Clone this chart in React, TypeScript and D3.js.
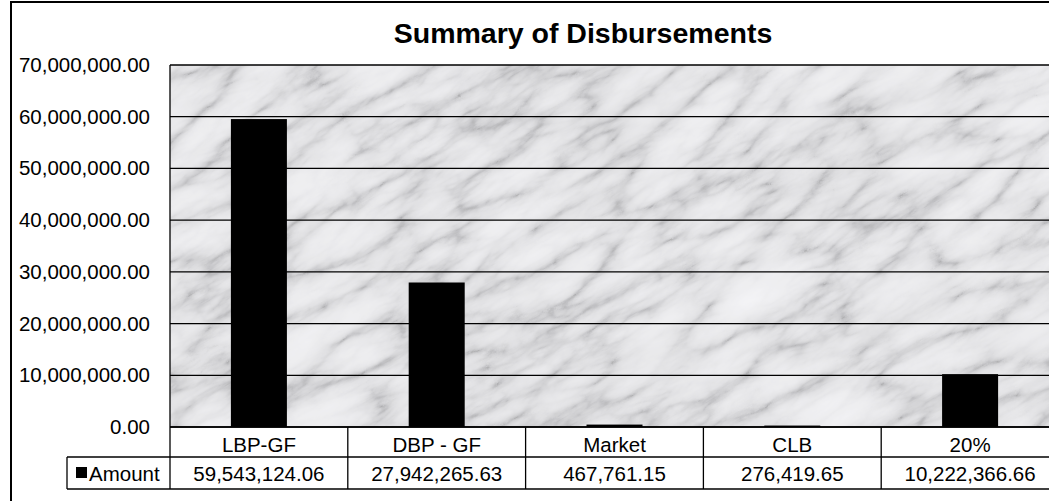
import React from "react";
import * as d3 from "d3";

const categories = ["LBP-GF", "DBP - GF", "Market", "CLB", "20%"];
const amounts = [59543124.06, 27942265.63, 467761.15, 276419.65, 10222366.66];
const valueLabels = ["59,543,124.06", "27,942,265.63", "467,761.15", "276,419.65", "10,222,366.66"];
const yTicks = [0, 10e6, 20e6, 30e6, 40e6, 50e6, 60e6, 70e6];
const seriesName = "Amount";
const title = "Summary of Disbursements";

export default function App() {
  const W = 1049, H = 501;
  const plotL = 170, plotR = 1059, plotT = 65, plotB = 427;
  const row1B = 457, row2B = 489, legendL = 67;
  const y = d3.scaleLinear().domain([0, 70e6]).range([plotB, plotT]);
  const x = d3.scaleBand<string>().domain(categories).range([plotL, plotR]).padding(0);
  const bw = x.bandwidth() * 0.315;
  const fmt = d3.format(",.2f");
  const font = "Arial, 'Liberation Sans', sans-serif";
  const fs = 20.5;

  return (
    <svg width={W} height={H} style={{ position: "absolute", left: 0, top: 0 }}>
      <defs>
        <filter id="marble" x="0" y="0" width="100%" height="100%" filterUnits="objectBoundingBox">
          <feTurbulence type="turbulence" baseFrequency="0.009 0.026" numOctaves="5" seed="11" result="t" />
          <feColorMatrix in="t" type="matrix"
            values="1 0 0 0 0  1 0 0 0 0  1 0 0 0 0  0 0 0 0 1" result="g" />
          <feComponentTransfer in="g" result="m">
            <feFuncR type="table" tableValues="0.66 0.8 0.87 0.9 0.92 0.93 0.94 0.95" />
            <feFuncG type="table" tableValues="0.66 0.8 0.87 0.9 0.92 0.93 0.94 0.95" />
            <feFuncB type="table" tableValues="0.67 0.81 0.88 0.91 0.93 0.94 0.95 0.96" />
          </feComponentTransfer>
          <feTurbulence type="fractalNoise" baseFrequency="0.005 0.012" numOctaves="2" seed="4" result="c" />
          <feColorMatrix in="c" type="matrix"
            values="0 0 0 0 0.75  0 0 0 0 0.75  0 0 0 0 0.75  0.5 0 0 0 -0.2" result="shade" />
          <feComposite in="shade" in2="m" operator="over" result="s1" />
          <feBlend in="m" in2="s1" mode="multiply" />
        </filter>
        <clipPath id="plotClip">
          <rect x={plotL} y={plotT} width={plotR - plotL} height={plotB - plotT} />
        </clipPath>
      </defs>
      <rect x={0} y={0} width={W} height={H} fill="#fff" />
      {/* outer chart border */}
      <rect x={11} y={2} width={W + 20} height={H + 20} fill="none" stroke="#000" strokeWidth={2} />

      <text x={583} y={43} textAnchor="middle" fontFamily={font} fontWeight="bold" fontSize={28.5}>{title}</text>

      {/* marble background */}
      <g clipPath="url(#plotClip)">
        <rect x={plotL - 400} y={plotT - 400} width={plotR - plotL + 800} height={plotB - plotT + 800}
          filter="url(#marble)" transform={`rotate(-30 ${(plotL + plotR) / 2} ${(plotT + plotB) / 2})`} />
      </g>

      {/* gridlines */}
      {yTicks.map((t) => (
        <line key={t} x1={plotL} x2={plotR} y1={y(t)} y2={y(t)} stroke="#000" strokeWidth={1.3} />
      ))}
      <line x1={plotL} x2={plotL} y1={plotT} y2={plotB} stroke="#000" strokeWidth={1.3} />

      {/* bars */}
      {categories.map((c, i) => (
        <rect key={c} x={(x(c) as number) + x.bandwidth() / 2 - bw / 2} y={y(amounts[i])}
          width={bw} height={plotB - y(amounts[i])} fill="#000" />
      ))}

      {/* y tick labels */}
      {yTicks.map((t) => (
        <text key={t} x={150} y={y(t) + 7} textAnchor="end" fontFamily={font} fontSize={fs}>{fmt(t)}</text>
      ))}

      {/* data table */}
      <line x1={plotL} x2={W} y1={plotB} y2={plotB} stroke="#000" strokeWidth={1.3} />
      <line x1={legendL} x2={W} y1={row1B} y2={row1B} stroke="#000" strokeWidth={1.3} />
      <line x1={legendL} x2={W} y1={row2B} y2={row2B} stroke="#000" strokeWidth={1.3} />
      <line x1={legendL} x2={legendL} y1={row1B} y2={row2B} stroke="#000" strokeWidth={1.3} />
      {categories.map((c) => (
        <line key={c} x1={x(c) as number} x2={x(c) as number} y1={plotB} y2={row2B} stroke="#000" strokeWidth={1.3} />
      ))}
      {categories.map((c, i) => (
        <g key={c}>
          <text x={(x(c) as number) + x.bandwidth() / 2} y={plotB + 25} textAnchor="middle" fontFamily={font} fontSize={fs}>{c}</text>
          <text x={(x(c) as number) + x.bandwidth() / 2} y={row1B + 24} textAnchor="middle" fontFamily={font} fontSize={fs}>{valueLabels[i]}</text>
        </g>
      ))}
      <rect x={76} y={467} width={11} height={11} fill="#000" />
      <text x={89} y={row1B + 24} fontFamily={font} fontSize={fs}>{seriesName}</text>
    </svg>
  );
}
